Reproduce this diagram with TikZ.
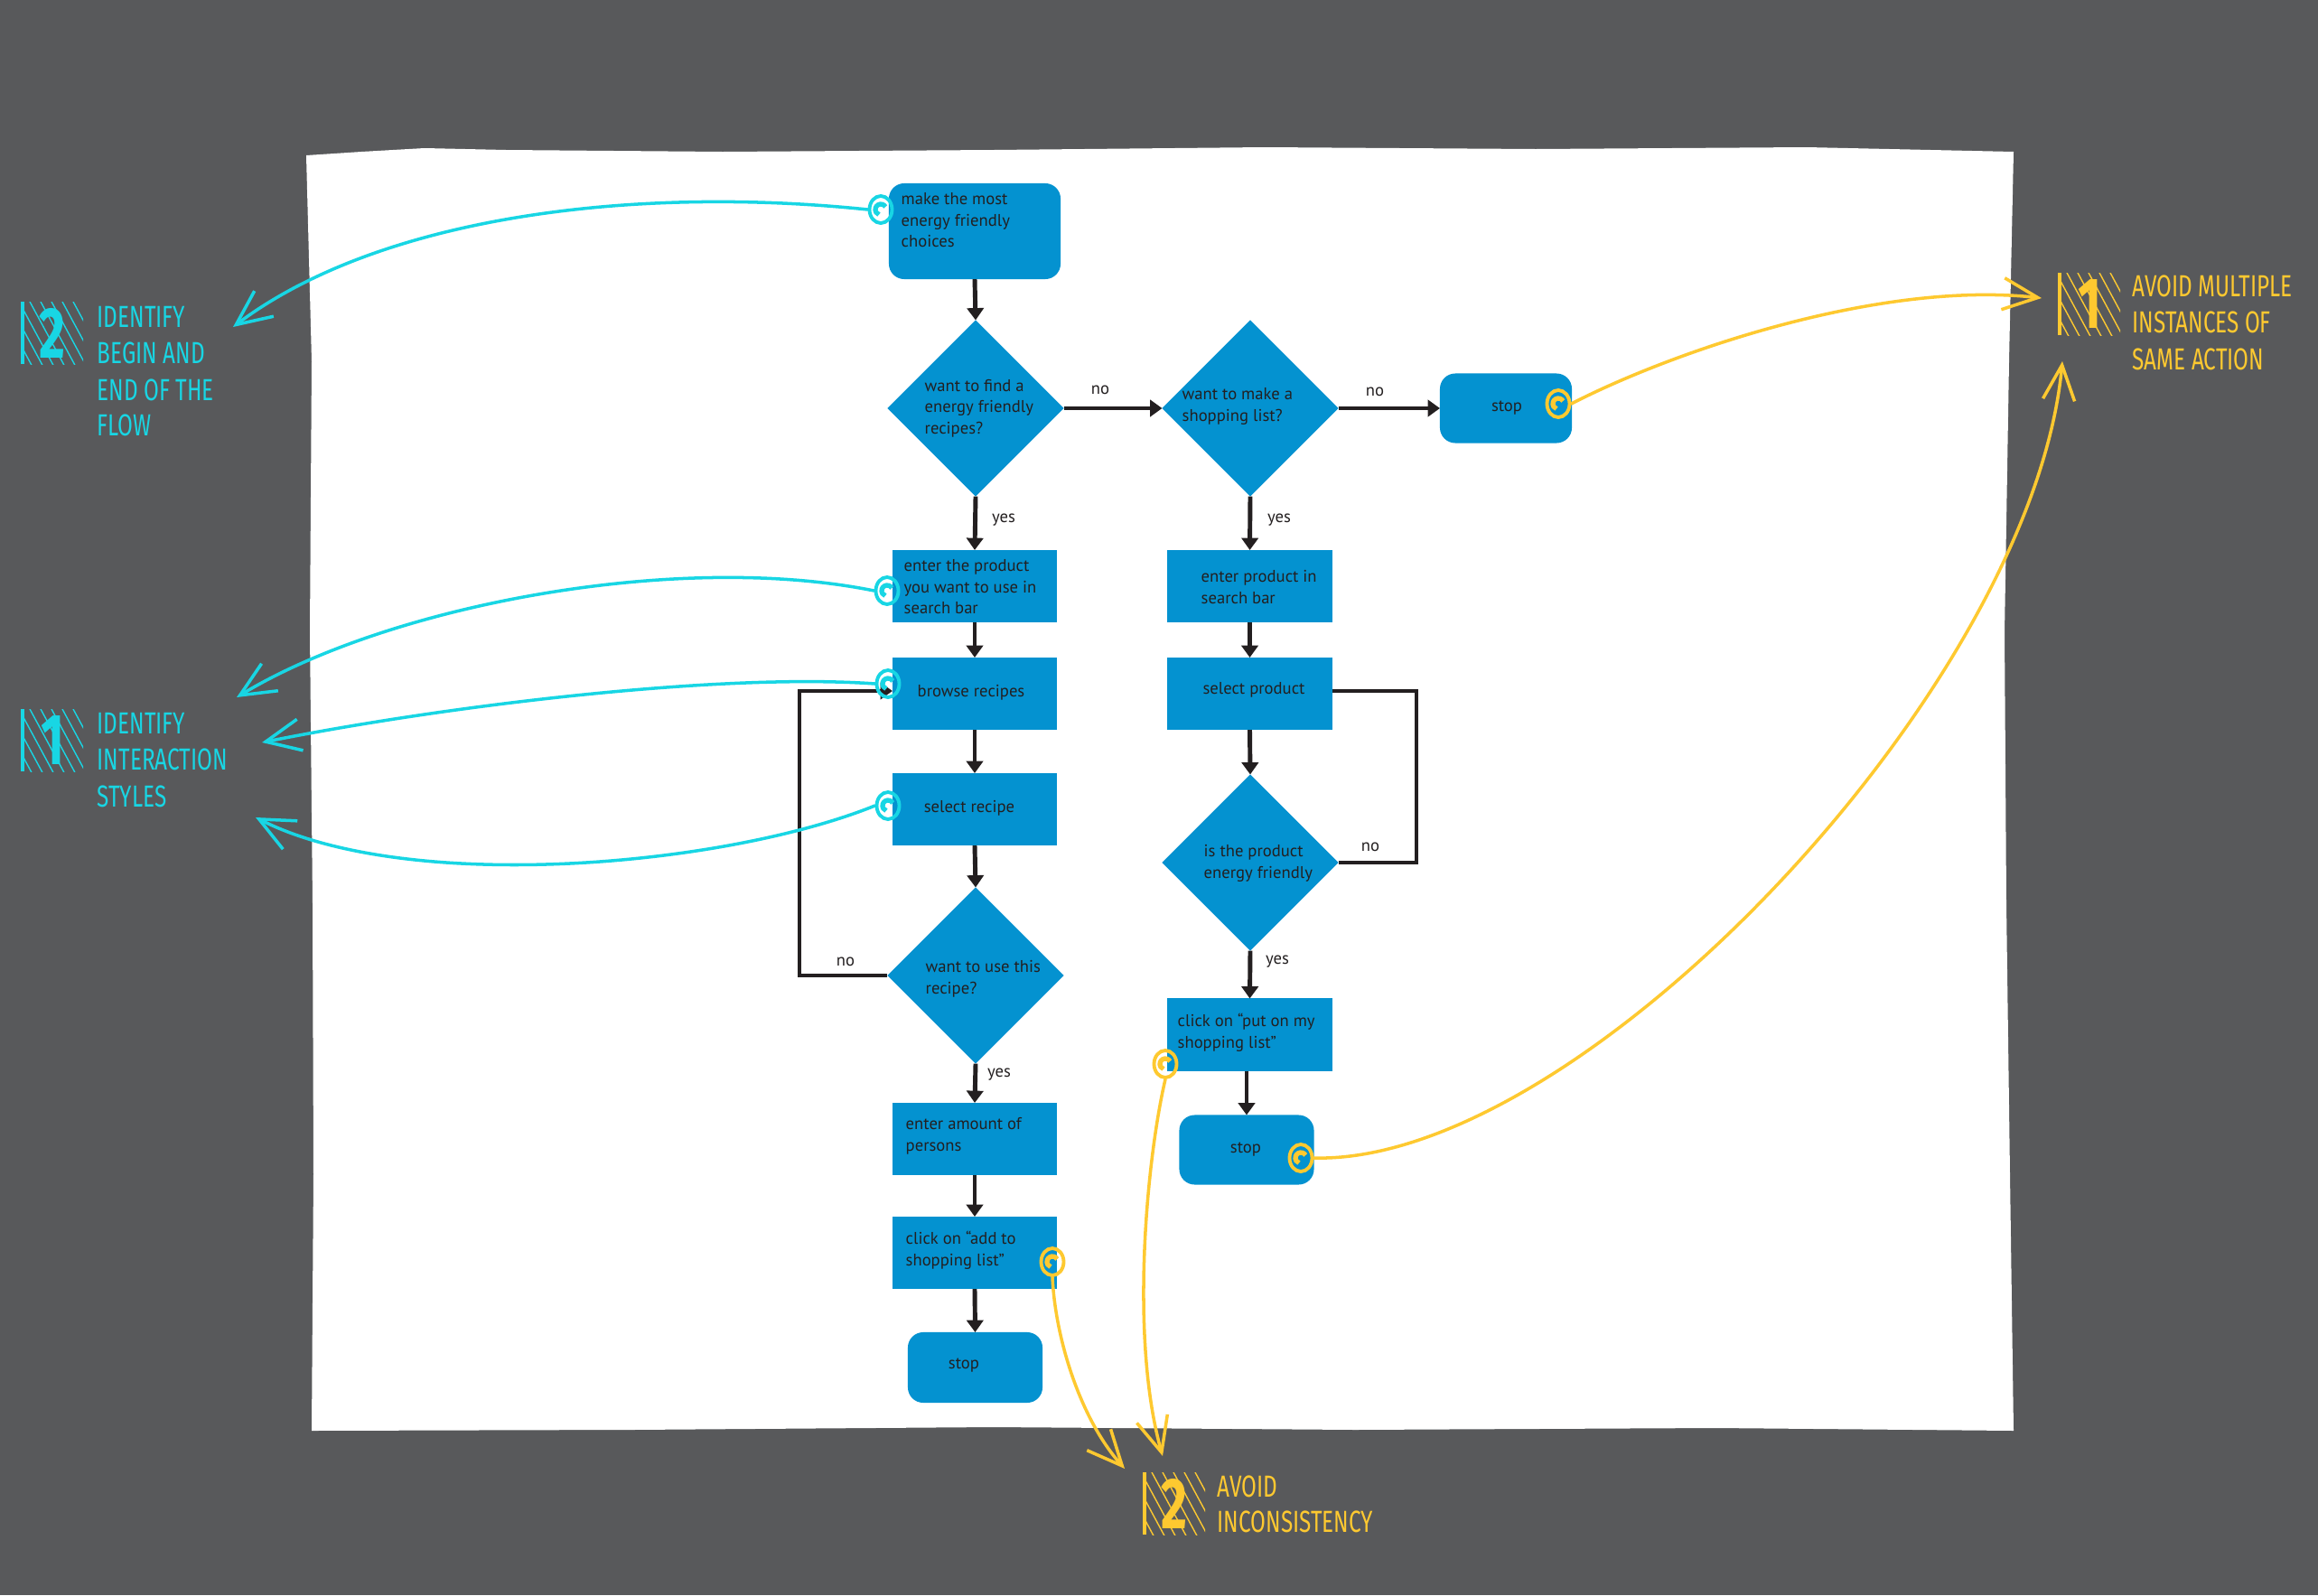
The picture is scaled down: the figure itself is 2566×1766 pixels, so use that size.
\documentclass[tikz,border=0pt]{standalone}
\usepackage{fontspec}
\setmainfont{PT Sans}
\newfontfamily\handfont[FakeStretch=0.72]{Fira Sans}
\newfontfamily\digitfont[FakeStretch=0.7]{Fira Sans}
\usetikzlibrary{shapes.geometric,arrows.meta,calc}
\definecolor{bgray}{RGB}{88,89,91}
\definecolor{boxblue}{RGB}{4,146,208}
\definecolor{ink}{RGB}{35,31,32}
\definecolor{acyan}{RGB}{24,214,228}
\definecolor{ayellow}{RGB}{254,201,48}
\newcommand\hatchmark[5]{%
  \begin{scope}
    \clip (#1,#2) rectangle ++(67,69);
    \foreach \k in {0,12,...,108}
      \draw[#3, line width=0.4pt] (#1-40+\k,#2) -- ++(40,74);
  \end{scope}
  \draw[#3, line width=1.1pt] (#1,#2) -- ++(0,69);
  \node[font=\digitfont\bfseries\fontsize{22.7}{24}\selectfont, text=#3, inner sep=0pt] (#5) at (#1+33,#2+35) {#4};
}
\begin{document}
\begin{tikzpicture}[x=0.01cm,y=-0.01cm,
  box/.style={rectangle, fill=boxblue, minimum width=1.82cm, minimum height=0.80cm, inner sep=0pt, outer sep=0pt},
  roundbox/.style={box, rounded corners=0.17cm},
  dia/.style={diamond, fill=boxblue, minimum width=1.95cm, minimum height=1.95cm, inner sep=0pt, outer sep=0pt},
  txt/.style={font=\fontsize{5.3}{6.7}\selectfont, text=ink, align=left, inner sep=0pt},
  flow/.style={draw=ink, line width=1.4pt, -{Triangle[length=3.8pt,width=5.2pt]}},
  loopline/.style={draw=ink, line width=1.4pt},
  handarrow/.style={line width=1pt, line cap=round, -{Straight Barb[length=11pt,width=10pt]}},
  chkmark/.style={ellipse, draw=#1, line width=1.1pt, minimum width=0.25cm, minimum height=0.30cm, inner sep=0pt,
    path picture={\draw[#1, line width=1.5pt] ($(path picture bounding box.center)+(30:0.06cm)$) arc[start angle=30, end angle=250, radius=0.06cm];}},
  notetext/.style={font=\handfont\fontsize{9.6}{11.5}\selectfont, inner sep=0pt, anchor=base west}
]
\useasboundingbox (0,0) rectangle (2566,1766);
\fill[bgray] (0,0) rectangle (2566,1766);
\fill[white] (339,172) -- (400,168) -- (470,164) -- (560,166) -- (800,168) -- (1100,166) -- (1400,163) -- (1700,165) -- (2000,163) -- (2229,168) -- (2224,400) -- (2219,700) -- (2221,1000) -- (2225,1300) -- (2229,1584) -- (1900,1581) -- (1500,1583) -- (1100,1580) -- (700,1583) -- (345,1584) -- (347,1300) -- (346,1000) -- (343,700) -- (345,400) -- cycle;

% shapes
\node[roundbox, minimum width=1.90cm, minimum height=1.06cm] (start) at (1079,256) {};
\node[dia] (D1) at (1080,452) {};
\node[dia] (D2) at (1384,452) {};
\node[roundbox, minimum width=1.46cm, minimum height=0.77cm] (stopA) at (1667,452) {};
\node[box] (A) at (1079,649) {};
\node[box] (B) at (1079,768) {};
\node[box] (C) at (1079,896) {};
\node[dia] (D3) at (1080,1080) {};
\node[box] (E) at (1079,1261) {};
\node[box] (F) at (1079,1387) {};
\node[roundbox, minimum width=1.49cm, minimum height=0.78cm] (stopB) at (1079.5,1514) {};
\node[box] (G) at (1383.5,649) {};
\node[box] (H) at (1383.5,768) {};
\node[dia] (D4) at (1384,955) {};
\node[box] (I) at (1383.5,1145.5) {};
\node[roundbox, minimum width=1.49cm, minimum height=0.77cm] (stopC) at (1380,1273) {};

% texts
\node[txt, anchor=west] (tstart) at (997,244) {make the most\\energy friendly\\choices};
\node[txt, anchor=west] (tD1) at (1023,452) {want to find a\\energy friendly\\recipes?};
\node[txt, anchor=west] (tD2) at (1308,450) {want to make a\\shopping list?};
\node[txt] (tstopA) at (1668,452) {stop};
\node[txt, anchor=west] (tA) at (1000,650) {enter the product\\you want to use in\\search bar};
\node[txt] (tB) at (1075,767) {browse recipes};
\node[txt] (tC) at (1073,895) {select recipe};
\node[txt, anchor=west] (tD3) at (1024,1084) {want to use this\\recipe?};
\node[txt, anchor=west] (tE) at (1002,1258) {enter amount of\\persons};
\node[txt, anchor=west] (tF) at (1002,1384) {click on “add to\\shopping list”};
\node[txt] (tstopB) at (1067,1512) {stop};
\node[txt, anchor=west] (tG) at (1329,650) {enter product in\\search bar};
\node[txt] (tH) at (1388,764) {select product};
\node[txt, anchor=west] (tD4) at (1332,956) {is the product\\energy friendly};
\node[txt, anchor=west] (tI) at (1303,1143) {click on “put on my\\shopping list”};
\node[txt] (tstopC) at (1379,1273) {stop};

% labels
\node[txt] (l1) at (1218,432) {no};
\node[txt] (l2) at (1522,434) {no};
\node[txt] (l3) at (1111,576) {yes};
\node[txt] (l4) at (1416,576) {yes};
\node[txt] (l5) at (936,1065) {no};
\node[txt] (l6) at (1106,1190) {yes};
\node[txt] (l7) at (1517,938) {no};
\node[txt] (l8) at (1414,1065) {yes};

% connectors
\draw[flow] (start.south) -- (D1.north);
\draw[flow] (D1.east) -- (D2.west);
\draw[flow] (D2.east) -- (stopA.west);
\draw[flow] (D1.south) -- (A.north);
\draw[flow] (A.south) -- (B.north);
\draw[flow] (B.south) -- (C.north);
\draw[flow] (C.south) -- (D3.north);
\draw[flow] (D3.south) -- (E.north);
\draw[flow] (E.south) -- (F.north);
\draw[flow] (F.south) -- (stopB.north);
\draw[flow] (D2.south) -- (G.north);
\draw[flow] (G.south) -- (H.north);
\draw[flow] (H.south) -- (D4.north);
\draw[flow] (D4.south) -- (I.north);
\draw[flow] (I.south -| stopC.north) -- (stopC.north);
\coordinate (loopL) at (885,765);
\draw[flow] (D3.west) -| (loopL) -- (loopL -| B.west);
\coordinate (loopR) at (1568,765);
\draw[loopline] (D4.east) -| (loopR) -- (loopR -| H.east);

% annotation marks
\node[chkmark=acyan] (m1) at (975,232) {};
\node[chkmark=acyan] (m2) at (982,654) {};
\node[chkmark=acyan] (m3) at (983,757) {};
\node[chkmark=acyan] (m4) at (983,892) {};
\node[chkmark=ayellow] (m5) at (1725,447) {};
\node[chkmark=ayellow] (m6) at (1165,1397) {};
\node[chkmark=ayellow] (m7) at (1290,1178) {};
\node[chkmark=ayellow] (m8) at (1440,1282) {};

\coordinate (tipC1) at (258,362);
\coordinate (tipC2) at (262,772);
\coordinate (tipC3) at (290,822);
\coordinate (tipC4) at (283,905);
\coordinate (tipY1) at (2260,330);
\coordinate (tipY2) at (2283,400);
\coordinate (tipY3) at (1245,1626);
\coordinate (tipY4) at (1287,1612);

\draw[handarrow, acyan] (m1.west) .. controls (700,205) and (420,240) .. (tipC1);
\draw[handarrow, acyan] (m2.west) .. controls (750,610) and (430,670) .. (tipC2);
\draw[handarrow, acyan] (m3.west) .. controls (800,745) and (500,780) .. (tipC3);
\draw[handarrow, acyan] (m4.west) .. controls (800,960) and (450,990) .. (tipC4);
\draw[handarrow, ayellow] (m5.east) .. controls (1850,390) and (2080,310) .. (tipY1);
\draw[handarrow, ayellow] (m8.east) .. controls (1750,1290) and (2250,760) .. (tipY2);
\draw[handarrow, ayellow] (m6.south) .. controls (1168,1480) and (1195,1570) .. (tipY3);
\draw[handarrow, ayellow] (m7.south) .. controls (1270,1280) and (1250,1480) .. (tipY4);

% annotation labels
\hatchmark{25}{334}{acyan}{2}{numA}
\node[notetext, text=acyan] (noteA1) at (107,362) {IDENTIFY};
\node[notetext, text=acyan] (noteA2) at (107,402) {BEGIN AND};
\node[notetext, text=acyan] (noteA3) at (107,443) {END OF THE};
\node[notetext, text=acyan] (noteA4) at (107,482) {FLOW};
\hatchmark{25}{785}{acyan}{1}{numB}
\node[notetext, text=acyan] (noteB1) at (107,812) {IDENTIFY};
\node[notetext, text=acyan] (noteB2) at (107,852) {INTERACTION};
\node[notetext, text=acyan] (noteB3) at (107,893) {STYLES};
\hatchmark{2280}{302}{ayellow}{1}{numC}
\node[notetext, text=ayellow] (noteC1) at (2360,328) {AVOID MULTIPLE};
\node[notetext, text=ayellow] (noteC2) at (2360,368) {INSTANCES OF};
\node[notetext, text=ayellow] (noteC3) at (2360,409) {SAME ACTION};
\hatchmark{1267}{1630}{ayellow}{2}{numD}
\node[notetext, text=ayellow] (noteD1) at (1347,1657) {AVOID};
\node[notetext, text=ayellow] (noteD2) at (1347,1696) {INCONSISTENCY};
\end{tikzpicture}
\end{document}
